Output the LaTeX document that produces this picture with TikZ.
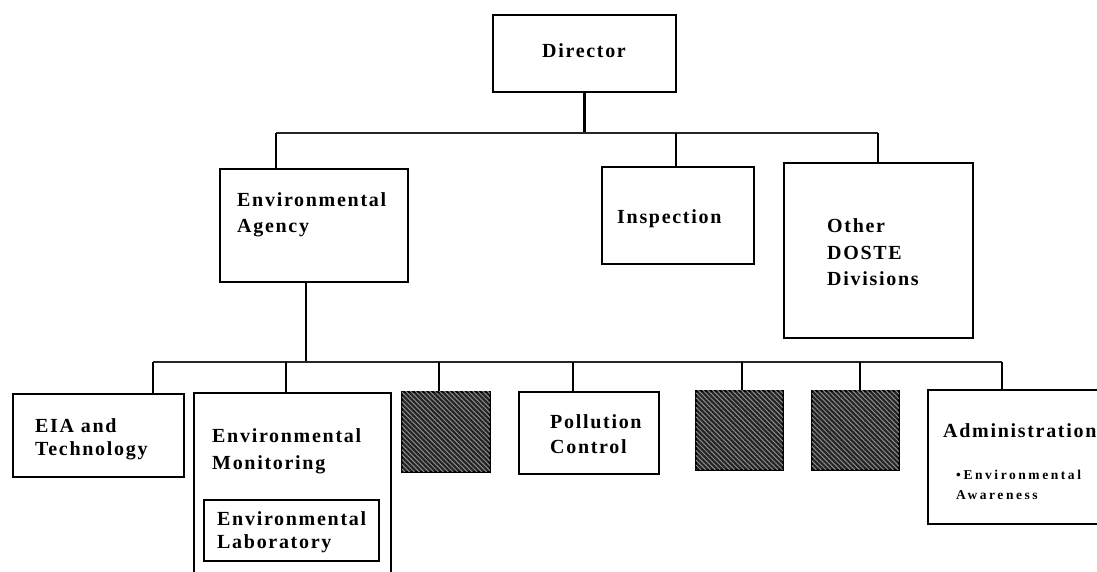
\documentclass[tikz,border=0pt]{standalone}
\usepackage{fontspec}
\setmainfont{Liberation Serif}
\newfontfamily\orgfont[LetterSpace=8.5]{Liberation Serif}
\newfontfamily\smallorgfont[LetterSpace=19]{Liberation Serif}
\usetikzlibrary{patterns.meta}
\newcommand{\orglines}[1]{\begin{tabular}[t]{@{}l@{}}#1\end{tabular}}
\tikzset{
  x=1pt, y=-1pt,
  unitbox/.style={draw=black, line width=1.7pt, inner sep=0pt, anchor=north west},
  hatchbox/.style={unitbox, fill=black!86,
    postaction={pattern={Lines[angle=-45,distance=3.4pt,line width=1pt]}, pattern color=black!45}},
  lbl/.style={inner sep=0pt, anchor=base west, font=\orgfont\bfseries\fontsize{20}{25}\selectfont},
  sublbl/.style={inner sep=0pt, anchor=base west, font=\smallorgfont\bfseries\fontsize{13.5}{20}\selectfont},
  drop/.style={line width=2.6pt},
  bus/.style={line width=1.4pt, black!85},
}
\begin{document}
\begin{tikzpicture}
\useasboundingbox (0,0) rectangle (1097,572);
\clip (0,0) rectangle (1097,572);

% ---- boxes, top level
\node[unitbox, minimum width=183pt, minimum height=77pt] (dir) at (492,14) {};
\node[unitbox, minimum width=188pt, minimum height=113pt] (agency) at (219,168) {};
\node[unitbox, minimum width=152pt, minimum height=97pt] (insp) at (601,166) {};
\node[unitbox, minimum width=189pt, minimum height=175pt] (other) at (783,162) {};

% ---- boxes, lower level
\node[unitbox, minimum width=171pt, minimum height=83pt] (eia) at (12,393) {};
\node[unitbox, minimum width=197pt, minimum height=210pt] (mon) at (193,392) {};
\node[unitbox, minimum width=175pt, minimum height=61pt] (lab) at (203,499) {};
\node[hatchbox, minimum width=88pt, minimum height=80pt] (h1) at (401,391) {};
\node[unitbox, minimum width=140pt, minimum height=82pt] (poll) at (518,391) {};
\node[hatchbox, minimum width=87pt, minimum height=79pt] (h2) at (695,390) {};
\node[hatchbox, minimum width=87pt, minimum height=79pt] (h3) at (811,390) {};
\node[unitbox, minimum width=190pt, minimum height=134pt] (admin) at (927,389) {};

% ---- labels
\node[lbl, anchor=base] (tdir) at (584,58) {Director};
\node[lbl] (tagency) at (237,207) {\orglines{Environmental\\Agency}};
\node[lbl] (tinsp) at (617,223) {Inspection};
\node[lbl] (tother) at (827,233) {\fontsize{20}{26}\selectfont\orglines{Other\\DOSTE\\Divisions}};
\node[lbl] (teia) at (35,432) {\fontsize{20}{23.5}\selectfont\orglines{EIA and\\Technology}};
\node[lbl] (tmon) at (212,442) {\fontsize{20}{27}\selectfont\orglines{Environmental\\Monitoring}};
\node[lbl] (tlab) at (217,525) {\fontsize{20}{23}\selectfont\orglines{Environmental\\Laboratory}};
\node[lbl] (tpoll) at (550,428) {\orglines{Pollution\\Control}};
\node[lbl] (tadmin) at (943,437) {Administration};
\node[sublbl] (tawar) at (956,479) {\orglines{\textbullet Environmental\\Awareness}};

% ---- upper connectors
\coordinate (jdir) at (dir.south |- 0,133);
\coordinate (jagency) at (276,133);
\coordinate (jinsp) at (676,133);
\coordinate (jother) at (878,133);
\draw[drop] (dir.south) -- (jdir);
\draw[bus] (jagency) -- (jother);
\draw[drop] (jagency) -- (jagency |- agency.north);
\draw[drop] (jinsp) -- (jinsp |- insp.north);
\draw[drop] (jother) -- (jother |- other.north);

% ---- lower connectors
\coordinate (sagency) at (306,281);
\coordinate (jeia) at (153,362);
\coordinate (jmon) at (286,362);
\coordinate (jh1) at (439,362);
\coordinate (jpoll) at (573,362);
\coordinate (jh2) at (742,362);
\coordinate (jh3) at (860,362);
\coordinate (jadmin) at (1002,362);
\draw[drop] (sagency) -- (sagency |- jeia);
\draw[bus] (jeia) -- (jadmin);
\draw[drop] (jeia) -- (jeia |- eia.north);
\draw[drop] (jmon) -- (jmon |- mon.north);
\draw[drop] (jh1) -- (jh1 |- h1.north);
\draw[drop] (jpoll) -- (jpoll |- poll.north);
\draw[drop] (jh2) -- (jh2 |- h2.north);
\draw[drop] (jh3) -- (jh3 |- h3.north);
\draw[drop] (jadmin) -- (jadmin |- admin.north);
\end{tikzpicture}
\end{document}
